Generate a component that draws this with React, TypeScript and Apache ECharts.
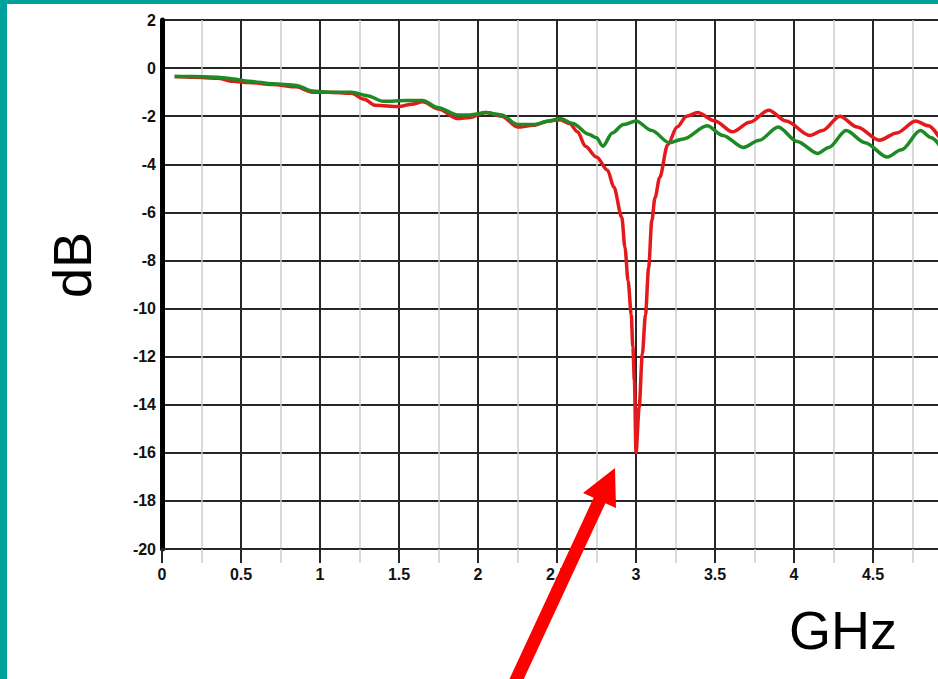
import React, { useEffect, useRef } from "react";
import * as echarts from "echarts";

// Frequency (GHz) and insertion loss (dB) for the two measured traces
const greenFreq = [
  0.08, 0.2, 0.35, 0.45, 0.55, 0.7, 0.85, 0.95, 1.05, 1.2, 1.3, 1.4, 1.55, 1.65,
  1.75, 1.87, 1.95, 2.05, 2.15, 2.25, 2.35, 2.45, 2.52, 2.6, 2.7, 2.75, 2.79,
  2.85, 2.92, 3.0, 3.1, 3.21, 3.3, 3.45, 3.55, 3.68, 3.78, 3.9, 4.02, 4.15,
  4.22, 4.33, 4.45, 4.59, 4.68, 4.8, 4.87, 4.95,
];
const greenDb = [
  -0.35, -0.35, -0.38, -0.45, -0.55, -0.65, -0.72, -0.95, -1.0, -1.0, -1.15,
  -1.38, -1.35, -1.35, -1.65, -1.95, -1.95, -1.85, -1.95, -2.35, -2.35, -2.2,
  -2.1, -2.3, -2.75, -2.9, -3.25, -2.7, -2.35, -2.2, -2.6, -3.1, -2.95, -2.4,
  -2.8, -3.3, -3.0, -2.45, -3.05, -3.55, -3.3, -2.6, -3.1, -3.7, -3.4, -2.6,
  -2.9, -3.5,
];

const redFreq = [
  0.08, 0.2, 0.35, 0.45, 0.55, 0.7, 0.85, 0.95, 1.05, 1.2, 1.28, 1.35, 1.5,
  1.58, 1.65, 1.75, 1.87, 1.95, 2.05, 2.15, 2.25, 2.35, 2.45, 2.52, 2.58, 2.63,
  2.68, 2.75, 2.82, 2.86, 2.91, 2.93, 2.95, 2.97, 2.98, 2.99, 3.0, 3.02, 3.04,
  3.06, 3.08, 3.1, 3.12, 3.15, 3.2, 3.26, 3.32, 3.39, 3.5, 3.61, 3.72, 3.84,
  3.95, 4.1, 4.18, 4.29, 4.4, 4.54, 4.65, 4.77, 4.85, 4.95,
];
const redDb = [
  -0.35, -0.38, -0.42, -0.55, -0.6, -0.68, -0.78, -1.0, -1.0, -1.05, -1.3,
  -1.55, -1.6, -1.5, -1.4, -1.7, -2.1, -2.05, -1.85, -2.0, -2.45, -2.38, -2.2,
  -2.15, -2.3, -2.65, -3.25, -3.7, -4.25, -4.95, -6.2, -7.45, -8.85, -10.25,
  -11.6, -13.0, -16.0, -14.1, -11.9, -10.25, -8.3, -6.35, -5.4, -4.55, -3.2,
  -2.45, -2.0, -1.85, -2.2, -2.65, -2.25, -1.75, -2.2, -2.8, -2.6, -2.0, -2.45,
  -3.0, -2.7, -2.2, -2.4, -3.2,
];

const xTicks = { min: 0, max: 5, step: 0.5 };
const yTicks = { min: -20, max: 2, step: 2 };

const pair = (xs: number[], ys: number[]) => xs.map((x, i) => [x, ys[i]]);

const TEAL = "#00a19b";
const MAJOR = "#262626";
const MINOR = "#cccccc";
const tickFont = {
  fontFamily: "Liberation Sans, Arial, sans-serif",
  fontWeight: "bold" as const,
  fontSize: 16,
  color: "#111",
};

export default function App() {
  const ref = useRef<HTMLDivElement>(null);

  useEffect(() => {
    if (!ref.current) return;
    const chart = echarts.init(ref.current, undefined, { renderer: "svg" });
    chart.setOption({
      animation: false,
      backgroundColor: "#fff",
      grid: { left: 162, right: 8, top: 20, bottom: 130 },
      xAxis: {
        type: "value",
        min: xTicks.min,
        max: xTicks.max,
        interval: xTicks.step,
        axisLine: { show: true, onZero: false, lineStyle: { color: MAJOR, width: 2 } },
        axisTick: { show: true, length: 14, lineStyle: { color: MAJOR, width: 2 } },
        minorTick: { show: true, splitNumber: 2, length: 14, lineStyle: { color: MINOR, width: 1.5 } },
        splitLine: { show: true, lineStyle: { color: MAJOR, width: 2 } },
        minorSplitLine: { show: true, lineStyle: { color: MINOR, width: 1.5 } },
        axisLabel: { ...tickFont, margin: 17, showMaxLabel: false },
      },
      yAxis: {
        type: "value",
        min: yTicks.min,
        max: yTicks.max,
        interval: yTicks.step,
        axisLine: { show: true, onZero: false, lineStyle: { color: "#000", width: 5 } },
        axisTick: { show: false },
        splitLine: { show: true, lineStyle: { color: MAJOR, width: 2 } },
        axisLabel: { ...tickFont, margin: 6 },
      },
      series: [
        {
          type: "line",
          name: "green",
          data: pair(greenFreq, greenDb),
          showSymbol: false,
          smooth: 0.3,
          smoothMonotone: "x",
          lineStyle: { color: "#1d8a23", width: 3.5 },
          z: 3,
        },
        {
          type: "line",
          name: "red",
          data: pair(redFreq, redDb),
          showSymbol: false,
          smooth: 0.3,
          smoothMonotone: "x",
          lineStyle: { color: "#e3191c", width: 3.5 },
          z: 2,
        },
      ],
      graphic: [
        { type: "rect", left: 0, top: 0, shape: { width: 7, height: 679 }, style: { fill: TEAL }, z: 100 },
        { type: "rect", left: 0, top: 0, shape: { width: 960, height: 4 }, style: { fill: TEAL }, z: 100 },
        {
          type: "text",
          x: 72,
          y: 265,
          rotation: Math.PI / 2,
          style: {
            text: "dB",
            fontSize: 54,
            fontFamily: "Liberation Sans, Arial, sans-serif",
            fill: "#000",
            align: "center",
            verticalAlign: "middle",
          },
          z: 100,
        },
        {
          type: "text",
          x: 843,
          y: 630,
          style: {
            text: "GHz",
            fontSize: 54,
            fontFamily: "Liberation Sans, Arial, sans-serif",
            fill: "#000",
            align: "center",
            verticalAlign: "middle",
          },
          z: 100,
        },
        {
          type: "polygon",
          shape: {
            points: [
              [615, 468],
              [616, 508],
              [605.4, 503.2],
              [510.9, 706.7],
              [499.1, 701.3],
              [593.6, 497.8],
              [583, 493],
            ],
          },
          style: { fill: "#ff0000" },
          z: 100,
        },
      ],
    });
    return () => chart.dispose();
  }, []);

  return (
    <div
      style={{
        position: "fixed",
        left: 0,
        top: 0,
        width: 938,
        height: 679,
        overflow: "hidden",
        background: "#fff",
      }}
    >
      <div ref={ref} style={{ width: 960, height: 679 }} />
    </div>
  );
}
